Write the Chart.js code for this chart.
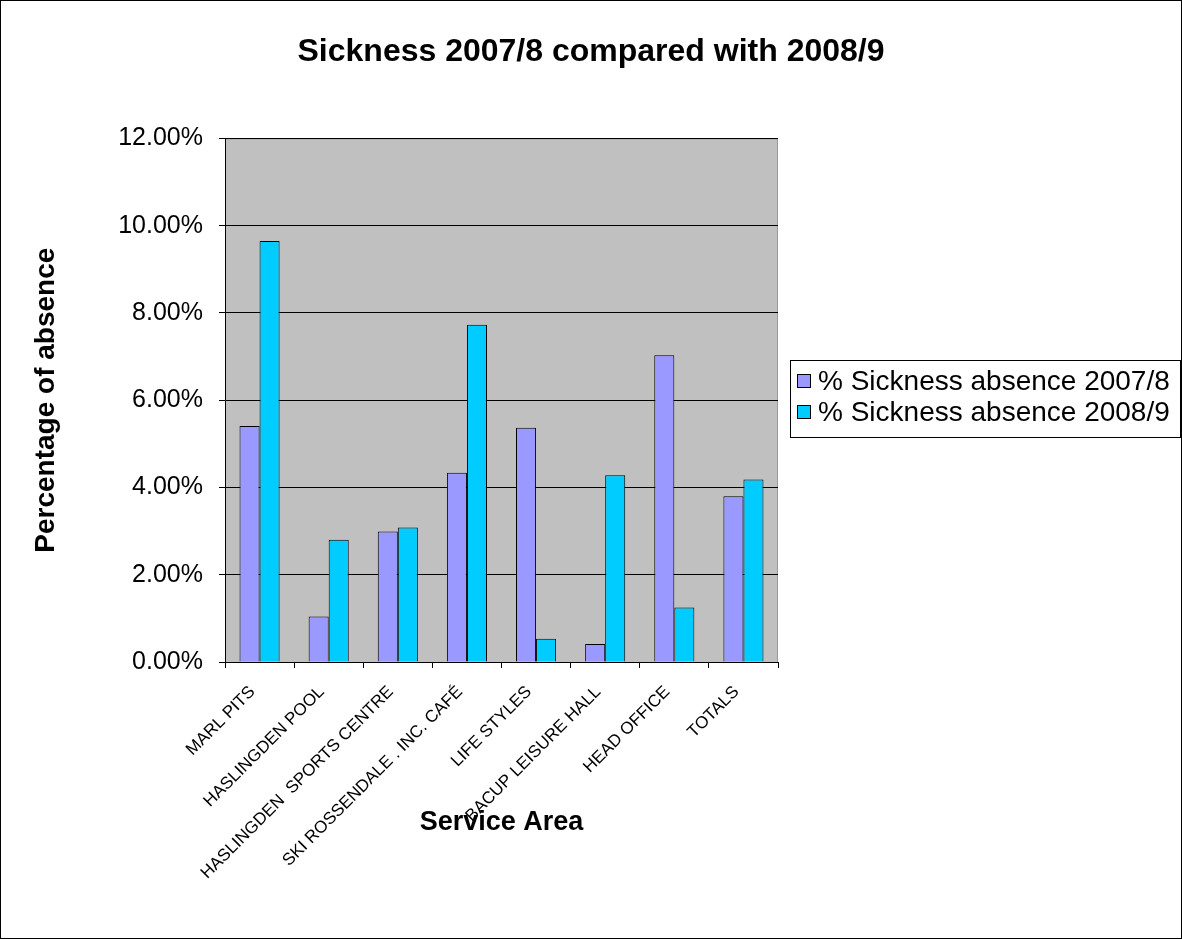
<!DOCTYPE html>
<html>
<head>
<meta charset="utf-8">
<script src="https://cdn.jsdelivr.net/npm/chart.js@4.4.0/dist/chart.umd.min.js"></script>
<style>
  html, body { margin: 0; padding: 0; background: #fff; }
  #wrap { position: absolute; left: 0; top: 0; width: 1180px; height: 937px; border: 1px solid #000; }
</style>
</head>
<body>
<div id="wrap"><canvas id="grafico" width="1180" height="937"></canvas></div>
<script>
const areas = ['MARL PITS', 'HASLINGDEN POOL', 'HASLINGDEN  SPORTS CENTRE', 'SKI ROSSENDALE . INC. CAFÉ',
  'LIFE STYLES', 'BACUP LEISURE HALL', 'HEAD OFFICE', 'TOTALS'];
const sickness0708 = [0.0541, 0.0104, 0.0299, 0.0434, 0.0537, 0.0041, 0.0703, 0.0380];
const sickness0809 = [0.0965, 0.0280, 0.0308, 0.0773, 0.0053, 0.0428, 0.0125, 0.0418];
const yTicks = [0, 0.02, 0.04, 0.06, 0.08, 0.10, 0.12];

const FONT = '"Liberation Sans", Arial, sans-serif';

// fundo cinza da área do gráfico
const plotBg = {
  id: 'plotBg',
  beforeDraw(chart) {
    const { ctx, chartArea: a } = chart;
    ctx.save();
    ctx.fillStyle = '#c0c0c0';
    ctx.fillRect(a.left, a.top, a.right - a.left, a.bottom - a.top);
    ctx.strokeStyle = '#999';
    ctx.lineWidth = 1;
    ctx.strokeRect(a.left + 0.5, a.top + 0.5, a.right - a.left - 1, a.bottom - a.top);
    ctx.restore();
  }
};

// legenda desenhada à mão (a do Chart.js fica estreita demais)
const sideLegend = {
  id: 'sideLegend',
  afterDraw(chart) {
    const { ctx, chartArea: a } = chart;
    const sets = chart.data.datasets;
    const left = Math.round(a.right) + 12;
    const rowH = 31;
    const boxH = rowH * sets.length + 15;
    const top = Math.round((a.top + a.bottom) / 2 - boxH / 2) - 2;
    ctx.save();
    ctx.strokeStyle = '#000';
    ctx.lineWidth = 1;
    ctx.strokeRect(left + 0.5, top + 0.5, chart.width - left - 1, boxH);
    ctx.font = '28px ' + FONT;
    ctx.textBaseline = 'middle';
    ctx.textAlign = 'left';
    sets.forEach((ds, i) => {
      const cy = top + 21 + i * rowH;
      ctx.fillStyle = ds.backgroundColor;
      ctx.fillRect(left + 7.5, cy - 6.5, 13, 13);
      ctx.strokeStyle = '#000';
      ctx.strokeRect(left + 7.5, cy - 6.5, 13, 13);
      ctx.fillStyle = '#000';
      ctx.fillText(ds.label, left + 28, cy + 1);
    });
    ctx.restore();
  }
};

new Chart(document.getElementById('grafico').getContext('2d'), {
  type: 'bar',
  data: {
    labels: areas,
    datasets: [
      {
        label: '% Sickness absence 2007/8',
        data: sickness0708,
        backgroundColor: '#9999ff',
        borderColor: '#000',
        borderWidth: 1
      },
      {
        label: '% Sickness absence 2008/9',
        data: sickness0809,
        backgroundColor: '#00ccff',
        borderColor: '#000',
        borderWidth: 1
      }
    ]
  },
  plugins: [plotBg, sideLegend],
  options: {
    responsive: false,
    animation: false,
    layout: { padding: 0 },
    datasets: { bar: { categoryPercentage: 0.58, barPercentage: 1 } },
    plugins: {
      title: {
        display: true,
        text: 'Sickness 2007/8 compared with 2008/9',
        color: '#000',
        font: { family: FONT, size: 32, weight: 'bold' },
        padding: { top: 32, bottom: 67 }
      },
      legend: { display: false },
      tooltip: { enabled: false }
    },
    scales: {
      x: {
        offset: true,
        grid: { offset: true, drawOnChartArea: false, color: '#000', tickLength: 6 },
        border: { color: '#000' },
        ticks: {
          color: '#000',
          font: { family: FONT, size: 17 },
          maxRotation: 45,
          minRotation: 45,
          autoSkip: false,
          padding: 14,
          labelOffset: -7
        },
        title: {
          display: true,
          text: 'Service Area',
          color: '#000',
          font: { family: FONT, size: 27, weight: 'bold' },
          padding: { top: 0, bottom: 99 }
        },
        afterFit(scale) { scale.height = 276; }
      },
      y: {
        min: 0,
        max: 0.12,
        afterBuildTicks(scale) { scale.ticks = yTicks.map(v => ({ value: v })); },
        grid: { color: '#000', tickLength: 6 },
        border: { color: '#000' },
        ticks: {
          color: '#000',
          font: { family: FONT, size: 25 },
          padding: 16,
          callback: v => (v * 100).toFixed(2) + '%'
        },
        title: {
          display: true,
          text: 'Percentage of absence',
          color: '#000',
          font: { family: FONT, size: 28, weight: 'bold' },
          padding: { top: 28, bottom: 0 }
        },
        afterFit(scale) { scale.width = 224; }
      },
      // eixo vazio só para reservar o espaço da legenda à direita
      espacoLegenda: {
        type: 'linear',
        position: 'right',
        display: true,
        grid: { display: false },
        border: { display: false },
        ticks: { display: false },
        afterFit(scale) { scale.width = 403; }
      }
    }
  }
});
</script>
</body>
</html>
